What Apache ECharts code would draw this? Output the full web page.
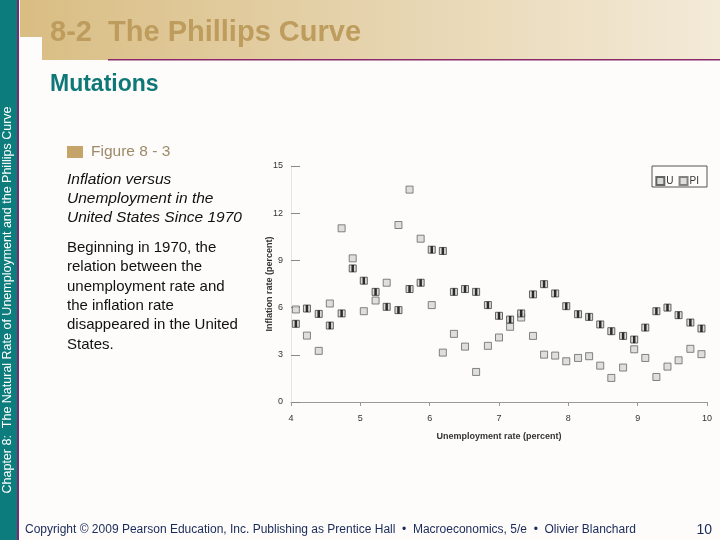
<!DOCTYPE html>
<html>
<head>
<meta charset="utf-8">
<script src="https://cdn.jsdelivr.net/npm/echarts@6/dist/echarts.min.js"></script>
<style>
  html, body { margin: 0; padding: 0; background: #fdfcfa; }
  #chart { width: 720px; height: 540px; }
</style>
</head>
<body>
<div id="chart"></div>
<script>
// x positions (unemployment rate) of the paired points
const xPos = [4.07, 4.23, 4.40, 4.56, 4.73, 4.89, 5.05, 5.22, 5.38, 5.55, 5.71, 5.87, 6.03,
  6.19, 6.35, 6.51, 6.67, 6.84, 7.00, 7.16, 7.32, 7.49, 7.65, 7.81, 7.97, 8.14, 8.30,
  8.46, 8.62, 8.79, 8.95, 9.11, 9.27, 9.43, 9.59, 9.76, 9.92];
const uValues = [4.97, 5.94, 5.60, 4.86, 5.63, 8.49, 7.71, 7.00, 6.05, 5.84, 7.18, 7.58, 9.68,
  9.60, 7.00, 7.18, 7.00, 6.16, 5.48, 5.24, 5.63, 6.84, 7.49, 6.90, 6.09, 5.58, 5.41,
  4.93, 4.50, 4.20, 3.97, 4.73, 5.77, 6.00, 5.52, 5.05, 4.67];
const piValues = [5.88, 4.22, 3.25, 6.26, 11.04, 9.13, 5.77, 6.45, 7.58, 11.25, 13.50, 10.38, 6.16,
  3.14, 4.33, 3.52, 1.91, 3.57, 4.10, 4.78, 5.37, 4.20, 3.01, 2.95, 2.59, 2.80, 2.91,
  2.31, 1.53, 2.19, 3.35, 2.80, 1.59, 2.25, 2.65, 3.38, 3.04];
const yTicks = [0, 3, 6, 9, 12, 15];

const uData = xPos.map((x, i) => [x, uValues[i]]);
const piData = xPos.map((x, i) => [x, piValues[i]]);

const chart = echarts.init(document.getElementById('chart'));
const txt = (o) => Object.assign({ fontFamily: 'Liberation Sans, Arial' }, o);

chart.setOption({
  animation: false,
  backgroundColor: '#fdfcfa',
  graphic: [
    // header band
    { type: 'rect', shape: { x: 20, y: 0, width: 700, height: 60 },
      style: { fill: new echarts.graphic.LinearGradient(0, 0, 1, 0, [
        { offset: 0, color: '#d9bd83' }, { offset: 1, color: '#f3ead8' }]) } },
    { type: 'rect', shape: { x: 20, y: 37, width: 22, height: 23 }, style: { fill: '#fdfcfa' } },
    { type: 'rect', shape: { x: 108, y: 59, width: 612, height: 1.5 }, style: { fill: '#8a2a6a' } },
    // left bar
    { type: 'rect', shape: { x: 0, y: 0, width: 17, height: 540 }, style: { fill: '#0d7c7c' } },
    { type: 'rect', shape: { x: 17, y: 0, width: 2, height: 540 }, style: { fill: '#7a2a70' } },
    { type: 'text', x: 8, y: 300, rotation: Math.PI / 2,
      style: txt({ text: 'Chapter 8:  The Natural Rate of Unemployment and the Phillips Curve',
        fill: '#ffffff', fontSize: 12.5, align: 'center', verticalAlign: 'middle' }) },
    { type: 'text', x: 50, y: 33,
      style: txt({ text: '8-2  The Phillips Curve', fill: '#bd9c5e', fontSize: 29,
        fontWeight: 'bold', verticalAlign: 'middle' }) },
    { type: 'text', x: 50, y: 85,
      style: txt({ text: 'Mutations', fill: '#0e7878', fontSize: 23, fontWeight: 'bold',
        verticalAlign: 'middle' }) },
    { type: 'rect', shape: { x: 67, y: 146, width: 16, height: 12 }, style: { fill: '#c4a468' } },
    { type: 'text', x: 91, y: 152,
      style: txt({ text: 'Figure 8 - 3', fill: '#9c8a68', fontSize: 15.5, verticalAlign: 'middle' }) },
    { type: 'text', x: 67, y: 170,
      style: txt({ text: 'Inflation versus\nUnemployment in the\nUnited States Since 1970',
        fill: '#111', fontSize: 15.5, fontStyle: 'italic', lineHeight: 19 }) },
    { type: 'text', x: 67, y: 238,
      style: txt({ text: 'Beginning in 1970, the\nrelation between the\nunemployment rate and\nthe inflation rate\ndisappeared in the United\nStates.',
        fill: '#111', fontSize: 15, lineHeight: 19.4 }) },
    { type: 'text', x: 25, y: 530,
      style: txt({ text: 'Copyright © 2009 Pearson Education, Inc. Publishing as Prentice Hall  •  Macroeconomics, 5/e  •  Olivier Blanchard',
        fill: '#1a2a5a', fontSize: 12, verticalAlign: 'middle' }) },
    { type: 'text', x: 712, y: 530,
      style: txt({ text: '10', fill: '#1a2a5a', fontSize: 14, align: 'right', verticalAlign: 'middle' }) },
    // y axis title
    { type: 'text', x: 270, y: 284, rotation: Math.PI / 2,
      style: txt({ text: 'Inflation rate (percent)', fill: '#333', fontSize: 9, fontWeight: 'bold',
        align: 'center', verticalAlign: 'middle' }) },
    // legend box
    { type: 'rect', shape: { x: 652, y: 166, width: 55, height: 21 },
      style: { fill: 'none', stroke: '#555', lineWidth: 1 } }
  ],
  legend: {
    right: 16, top: 171, itemWidth: 8, itemHeight: 8, itemGap: 5,
    textStyle: txt({ fontSize: 10, color: '#333', padding: [0, 0, 0, -3] }),
    data: ['U', 'PI']
  },
  grid: { left: 291, right: 13, top: 166, bottom: 138 },
  xAxis: {
    type: 'value', min: 4, max: 10, interval: 1,
    name: 'Unemployment rate (percent)', nameLocation: 'middle', nameGap: 30,
    nameTextStyle: txt({ fontSize: 9, fontWeight: 'bold', color: '#333' }),
    axisLine: { lineStyle: { color: '#999' } },
    axisTick: { show: true, length: 4, lineStyle: { color: '#999' } },
    axisLabel: txt({ fontSize: 9, color: '#333', margin: 12 }),
    splitLine: { show: false }
  },
  yAxis: {
    type: 'value', min: 0, max: 15, interval: 3,
    axisLine: { show: true, lineStyle: { color: '#e4e4e4' } },
    axisTick: { show: true, inside: true, length: 9, lineStyle: { color: '#888' } },
    axisLabel: txt({ fontSize: 9, color: '#333', margin: 8,
      formatter: (v) => yTicks.includes(v) ? String(v) : '' }),
    splitLine: { show: false }
  },
  series: [
    { name: 'PI', type: 'scatter', data: piData, symbol: 'rect', symbolSize: 7,
      itemStyle: { color: '#d6d6d6', borderColor: '#666', borderWidth: 1 } },
    { name: 'U', type: 'scatter', data: uData, symbol: 'rect', symbolSize: 7,
      itemStyle: { color: '#d0d0d0', borderColor: '#444', borderWidth: 1 } },
    { name: 'Ubar', type: 'scatter', data: uData, symbol: 'rect', symbolSize: [2.5, 7],
      itemStyle: { color: '#000' }, silent: true }
  ]
});
</script>
</body>
</html>
